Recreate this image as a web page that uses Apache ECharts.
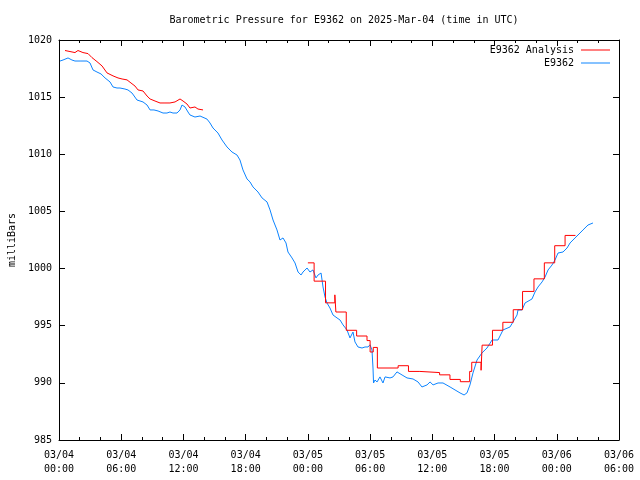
<!DOCTYPE html>
<html>
<head>
<meta charset="utf-8">
<script src="https://cdn.jsdelivr.net/npm/echarts@6/dist/echarts.min.js"></script>
<style>html,body{margin:0;padding:0;background:#fff}#c{width:640px;height:480px}</style>
</head>
<body>
<div id="c"></div>
<script>
// hours since 03/04 00:00 UTC
var xTickLabels = ['03/04\n00:00','03/04\n06:00','03/04\n12:00','03/04\n18:00','03/05\n00:00','03/05\n06:00','03/05\n12:00','03/05\n18:00','03/06\n00:00','03/06\n06:00'];
var yTicks = [985, 990, 995, 1000, 1005, 1010, 1015, 1020];

var obsHours = [0.10,0.39,0.87,1.25,1.54,2.03,2.70,2.99,3.28,3.66,4.05,4.44,4.92,5.21,5.59,5.88,6.36,6.65,7.04,7.52,8.10,8.49,8.78,9.16,9.55,10.03,10.22,10.41,10.70,10.99,11.38,11.67,11.86,12.15,12.44,12.63,13.11,13.60,13.79,14.27,14.56,14.85,15.33,15.72,16.20,16.68,17.16,17.45,17.74,18.13,18.42,18.71,19.19,19.58,20.06,20.35,20.64,21.02,21.31,21.60,21.89,22.08,22.47,22.76,23.05,23.34,23.53,23.92,24.20,24.49,24.78,24.98,25.27,25.46,25.65,25.84,26.13,26.42,26.81,27.10,27.39,27.77,28.06,28.35,28.54,28.83,29.22,29.51,29.80,29.99,30.18,30.28,30.33,30.47,30.67,30.95,31.24,31.44,31.92,32.21,32.59,33.08,33.56,34.14,34.62,35.00,35.49,35.78,36.07,36.55,37.03,37.71,38.19,38.67,39.06,39.34,39.63,39.92,40.31,40.79,41.27,41.76,42.33,42.82,43.49,43.78,44.17,44.26,44.65,44.94,45.61,45.90,46.19,46.58,46.87,47.16,47.54,47.83,48.12,48.60,48.99,49.28,49.76,50.24,50.53,51.01,51.49];
var obsValues = [1018.16,1018.25,1018.43,1018.25,1018.16,1018.16,1018.16,1017.99,1017.38,1017.20,1017.03,1016.68,1016.33,1015.89,1015.80,1015.80,1015.71,1015.63,1015.36,1014.75,1014.58,1014.31,1013.88,1013.88,1013.79,1013.61,1013.44,1013.61,1013.70,1013.61,1013.61,1013.88,1014.31,1014.14,1013.70,1013.44,1013.26,1013.35,1013.26,1013.08,1012.74,1012.30,1011.86,1011.25,1010.64,1010.20,1009.94,1009.50,1008.63,1007.84,1007.58,1007.14,1006.70,1006.18,1005.83,1005.13,1004.25,1003.38,1002.50,1002.68,1002.24,1001.45,1000.93,1000.49,999.70,999.44,999.70,1000.05,999.70,999.88,999.18,999.44,999.61,998.39,997.52,996.99,996.55,995.94,995.68,995.50,995.07,994.63,993.93,994.45,993.58,993.14,993.05,993.14,993.14,993.33,992.88,991.30,989.99,990.25,990.08,990.52,989.99,990.52,990.43,990.52,990.96,990.69,990.43,990.34,990.08,989.64,989.82,990.08,989.82,989.99,989.99,989.64,989.38,989.12,988.94,989.12,989.82,990.87,992.00,992.62,993.05,993.75,993.75,994.63,994.89,995.33,995.94,996.38,996.38,996.99,997.34,997.95,998.39,998.83,999.26,999.88,1000.31,1000.75,1001.36,1001.45,1001.80,1002.24,1002.68,1003.11,1003.38,1003.81,1003.99];

var anaHours1 = [0.58,1.06,1.54,1.83,2.31,2.80,3.18,3.66,4.15,4.63,5.21,5.69,6.08,6.56,6.94,7.33,7.62,8.10,8.49,8.78,9.26,9.74,10.22,10.70,11.19,11.67,11.96,12.34,12.63,13.11,13.40,13.89];
var anaValues1 = [1019.08,1018.99,1018.90,1019.08,1018.90,1018.81,1018.46,1018.11,1017.73,1017.12,1016.86,1016.68,1016.59,1016.51,1016.24,1015.97,1015.63,1015.54,1015.10,1014.84,1014.66,1014.49,1014.49,1014.49,1014.58,1014.84,1014.66,1014.40,1014.05,1014.14,1013.96,1013.88];

var anaHours2 = [24.0,24.6,25.7,26.6,26.7,27.7,28.7,29.7,30.0,30.3,30.7,32.7,33.7,34.8,36.7,37.7,38.7,39.6,39.8,40.7,40.8,41.8,42.8,43.8,44.7,45.8,46.8,47.8,48.8,49.8];
var anaValues2 = [1000.5,998.9,997.0,997.7,996.2,994.6,994.1,993.7,992.7,993.1,991.3,991.5,991.0,990.9,990.7,990.3,990.1,991.0,991.8,991.1,993.3,994.6,995.3,996.4,998.0,999.1,1000.5,1002.0,1002.9,1002.9];

function pairs(h, v) { return h.map(function (x, i) { return [x, v[i]]; }); }

var FONT = 'DejaVu Sans Mono';
var RED = '#ff0000', BLUE = '#0c84ff';

function xAx(pos, showLabel) {
  return {
    type: 'value', position: pos, min: 0, max: 54, interval: 6,
    axisLine: { show: true, onZero: false, lineStyle: { color: '#000', width: 1 } },
    axisTick: { show: true, inside: true, length: 6, lineStyle: { color: '#000' } },
    minorTick: { show: true, splitNumber: 3, length: 3, lineStyle: { color: '#000' } },
    splitLine: { show: false },
    axisLabel: {
      show: showLabel, fontFamily: FONT, fontSize: 10, color: '#000', margin: 8, lineHeight: 14,
      formatter: function (v) { return xTickLabels[Math.round(v / 6)] || ''; }
    }
  };
}
function yAx(pos, showLabel) {
  return {
    type: 'value', position: pos, min: 985, max: 1020, interval: 5,
    name: showLabel ? 'milliBars' : '', nameLocation: 'middle', nameGap: 41, nameRotate: 90,
    nameTextStyle: { fontFamily: FONT, fontSize: 10, color: '#000' },
    axisLine: { show: true, onZero: false, lineStyle: { color: '#000', width: 1 } },
    axisTick: { show: true, inside: true, length: 6, lineStyle: { color: '#000' } },
    splitLine: { show: false },
    axisLabel: {
      show: showLabel, fontFamily: FONT, fontSize: 10, color: '#000', margin: 7,
      formatter: function (v) { return yTicks.indexOf(v) >= 0 ? String(v) : ''; }
    }
  };
}

var chart = echarts.init(document.getElementById('c'), null, { renderer: 'canvas' });
chart.setOption({
  animation: false,
  backgroundColor: '#fff',
  title: {
    text: 'Barometric Pressure for E9362 on 2025-Mar-04 (time in UTC)',
    left: 339, top: 10, textAlign: 'center',
    textStyle: { fontFamily: FONT, fontSize: 10, fontWeight: 'normal', color: '#000' }
  },
  grid: { left: 59, right: 21, top: 40, bottom: 40, containLabel: false, outerBoundsMode: 'none' },
  legend: [
    { data: ['E9362 Analysis'], right: 30, top: 45, padding: 0, align: 'right', icon: 'rect', itemWidth: 29, itemHeight: 1,
      textStyle: { fontFamily: FONT, fontSize: 10, color: '#000', padding: [0, 2, 0, 0] } },
    { data: ['E9362'], right: 30, top: 58, padding: 0, align: 'right', icon: 'rect', itemWidth: 29, itemHeight: 1,
      textStyle: { fontFamily: FONT, fontSize: 10, color: '#000', padding: [0, 2, 0, 0] } }
  ],
  xAxis: [xAx('bottom', true), xAx('top', false)],
  yAxis: [yAx('left', true), yAx('right', false)],
  series: [
    { name: 'E9362 Analysis', type: 'line', data: pairs(anaHours1, anaValues1), showSymbol: false,
      lineStyle: { color: RED, width: 1 }, itemStyle: { color: RED }, z: 3 },
    { name: 'E9362 Analysis', type: 'line', step: 'end', data: pairs(anaHours2, anaValues2), showSymbol: false,
      lineStyle: { color: RED, width: 1 }, itemStyle: { color: RED }, z: 3 },
    { name: 'E9362', type: 'line', data: pairs(obsHours, obsValues), showSymbol: false,
      lineStyle: { color: BLUE, width: 1 }, itemStyle: { color: BLUE }, z: 2 }
  ]
});
</script>
</body>
</html>
